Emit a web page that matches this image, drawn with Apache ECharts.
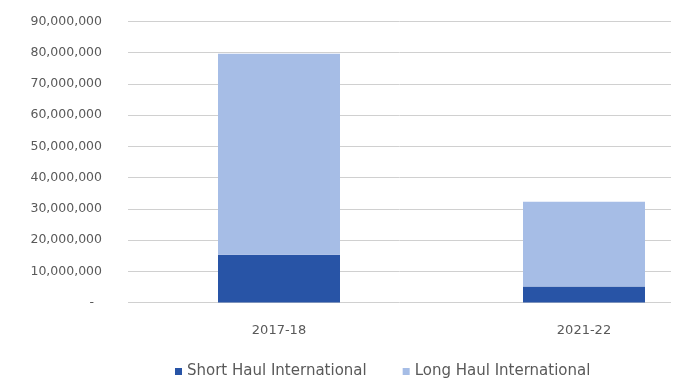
<!DOCTYPE html>
<html>
<head>
<meta charset="utf-8">
<script src="https://cdn.jsdelivr.net/npm/echarts@6/dist/echarts.min.js"></script>
<style>
  html, body { margin: 0; padding: 0; background: #ffffff; }
  #chart { width: 679px; height: 383px; }
</style>
</head>
<body>
<div id="chart"></div>
<script>
// International passenger totals by year, split by haul type
const categories = ['2017-18', '2021-22'];
const shortHaul = [15300000, 5100000];
const longHaul = [64400000, 27200000];
const seriesNames = ['Short Haul International', 'Long Haul International'];
const yMin = 0;
const yMax = 90000000;
const yStep = 10000000;

const textColor = '#595959';
const gridColor = '#d0d0d0';
const font = 'DejaVu Sans';

function fmt(v) {
  if (v === 0) return '-  ';
  return v.toString().replace(/\B(?=(\d{3})+(?!\d))/g, ',');
}

const chart = echarts.init(document.getElementById('chart'), null, { renderer: 'canvas' });
chart.setOption({
  backgroundColor: '#ffffff',
  animation: false,
  textStyle: { fontFamily: font, color: textColor },
  grid: [
    // value-axis area with the horizontal gridlines
    { left: 128, right: 8, top: 21.5, bottom: 80.5, outerBoundsMode: 'none' },
    // category band for the stacked bars (runs past the right edge)
    { left: 126.5, width: 610, top: 21.5, bottom: 80.5, outerBoundsMode: 'none' }
  ],
  legend: {
    left: 175,
    top: 364,
    padding: 0,
    itemWidth: 7,
    itemHeight: 7,
    itemGap: 36,
    icon: 'rect',
    textStyle: { fontFamily: font, fontSize: 15, color: textColor },
    data: seriesNames
  },
  xAxis: [
    {
      gridIndex: 0, type: 'category', data: categories,
      axisLine: { show: false }, axisTick: { show: false }, axisLabel: { show: false }
    },
    {
      gridIndex: 1, type: 'category', data: categories,
      axisLine: { show: false }, axisTick: { show: false },
      axisLabel: { margin: 22, fontFamily: font, fontSize: 13, color: textColor }
    }
  ],
  yAxis: [
    {
      gridIndex: 0, type: 'value', min: yMin, max: yMax, interval: yStep,
      axisLine: { show: false }, axisTick: { show: false },
      axisLabel: { margin: 26, fontFamily: font, fontSize: 12.5, color: textColor, formatter: fmt },
      splitLine: { lineStyle: { color: gridColor, width: 1 } }
    },
    {
      gridIndex: 1, type: 'value', min: yMin, max: yMax, interval: yStep,
      axisLine: { show: false }, axisTick: { show: false }, axisLabel: { show: false },
      splitLine: { show: false }
    }
  ],
  series: [
    {
      name: seriesNames[0], type: 'bar', stack: 'total',
      xAxisIndex: 1, yAxisIndex: 1,
      barWidth: 122,
      itemStyle: { color: '#2854a6' },
      data: shortHaul
    },
    {
      name: seriesNames[1], type: 'bar', stack: 'total',
      xAxisIndex: 1, yAxisIndex: 1,
      barWidth: 122,
      itemStyle: { color: '#a6bde6' },
      data: longHaul
    }
  ]
});
</script>
</body>
</html>
